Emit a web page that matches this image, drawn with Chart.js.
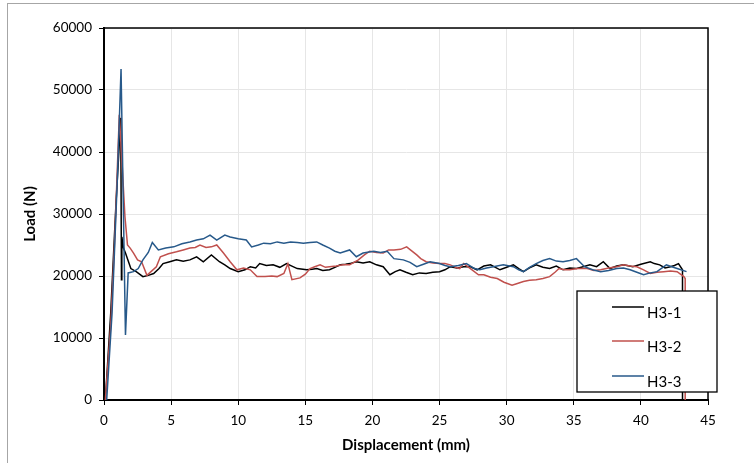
<!DOCTYPE html>
<html lang="en">
<head>
<meta charset="UTF-8">
<title>Load - Displacement</title>
<script src="https://cdn.jsdelivr.net/npm/chart.js"></script>
<style>
  body { margin: 0; background: #fff; overflow: hidden; }
  .frame { position: absolute; left: 7px; top: 3px; width: 800px; height: 520px; border: 1px solid #a6a6a6; }
  #chart { position: absolute; left: 0; top: 0; }
</style>
</head>
<body>
<div class="frame"></div>
<canvas id="chart" width="754" height="463"></canvas>
<script>
// values (displacement in mm, load in N)
const seriesNames = ["H3-1", "H3-2", "H3-3"];
const seriesColors = ["#000000", "#c0504d", "#27598a"];

const h31Disp = [0.1,0.5,0.9,1.25,1.3,1.33,1.45,1.6,2.0,2.4,2.9,3.3,3.7,4.1,4.4,4.9,5.4,5.9,6.4,6.9,7.4,8.0,8.6,9.0,9.4,10.0,10.5,10.9,11.3,11.6,12.1,12.6,13.1,13.6,14.0,14.4,15.1,15.5,15.85,16.3,16.8,17.2,17.6,18.0,18.3,18.8,19.3,19.8,20.3,20.8,21.3,21.7,22.05,22.5,23.0,23.5,24.0,24.5,25.0,25.4,25.8,26.3,26.8,27.3,27.8,28.3,28.8,29.5,30.0,30.5,30.9,31.25,31.7,32.2,32.7,33.2,33.7,34.2,34.7,35.2,35.7,36.2,36.7,37.2,37.7,38.2,38.7,39.4,40.0,40.7,41.0,41.4,41.8,42.2,42.5,42.8,43.1,43.1];
const h31Load = [0,14000,32000,45500,19400,26300,24500,23700,21200,20700,19900,20100,20400,21200,22000,22300,22600,22400,22600,23100,22300,23400,22300,21800,21200,20700,21000,21500,21300,22000,21700,21800,21400,22000,21600,21200,21000,21100,21200,20900,21000,21400,21800,21900,22000,22300,22100,22300,21800,21500,20200,20700,21000,20600,20200,20500,20400,20600,20700,21000,21500,21300,21500,21500,21000,21600,21800,21000,21400,21800,21200,20700,21300,21800,21400,21200,21600,21000,21300,21200,21500,21800,21500,22300,21200,21600,21800,21500,21900,22300,22000,21800,21300,21500,21700,22000,21000,0];

const h32Disp = [0.1,0.5,0.8,1.14,1.35,1.56,1.75,1.95,2.2,2.5,2.8,3.2,3.5,3.9,4.2,4.8,5.4,5.9,6.4,6.8,7.15,7.6,8.0,8.4,8.9,9.4,9.9,10.4,10.9,11.4,12.0,12.5,12.9,13.4,13.7,14.0,14.6,15.0,15.35,15.7,16.1,16.5,16.8,17.3,17.8,18.3,18.95,19.4,19.8,20.3,20.8,21.2,21.6,22.1,22.55,22.9,23.3,23.6,24.0,24.5,25.0,25.4,25.8,26.2,26.5,26.8,27.3,27.9,28.3,28.8,29.3,29.8,30.4,30.8,31.25,31.7,32.2,32.7,33.2,33.6,33.9,34.3,34.7,35.3,36.0,36.5,37.0,37.6,38.2,38.7,39.2,39.7,40.2,40.7,41.2,41.7,42.2,42.7,43.2,43.3,43.3];
const h32Load = [0,12000,26000,46000,38000,29600,25000,24500,23700,22600,22300,20100,20700,21500,23100,23600,23900,24200,24500,24600,25000,24600,24700,25000,23700,22300,21000,21300,21000,19900,19900,20000,19900,20400,22000,19400,19700,20300,21200,21500,21800,21400,21500,21600,21800,21800,22600,23400,24000,23800,23700,24200,24200,24300,24700,24100,23400,22800,22300,22100,22000,22000,21800,21400,21200,22000,21200,20200,20200,19800,19600,19000,18500,18800,19100,19300,19400,19600,19900,20600,21200,21000,21000,21200,21200,20900,21000,21300,21500,21800,21600,21500,21000,20400,20600,20700,20800,20700,19900,19600,0];

const h33Disp = [0.2,0.6,1.0,1.27,1.45,1.6,1.8,2.2,2.55,2.9,3.3,3.6,4.05,4.6,5.2,5.8,6.4,6.9,7.4,7.9,8.4,9.0,9.4,10.0,10.6,11.0,11.5,11.9,12.4,12.9,13.4,13.9,14.4,14.85,15.35,15.85,16.3,16.8,17.2,17.6,18.3,18.8,19.3,20.1,20.6,21.1,21.6,22.3,22.8,23.3,23.8,24.3,25.0,25.4,25.8,26.4,27.0,27.6,28.0,28.5,29.0,29.75,30.5,30.9,31.25,31.7,32.2,32.7,33.2,33.7,34.2,34.7,35.2,35.8,36.4,37.0,37.6,38.2,38.7,39.2,39.7,40.2,40.7,41.2,41.9,42.3,42.7,43.4];
const h33Load = [0,14000,36000,53400,30000,10500,20500,20700,21200,22600,23800,25400,24200,24500,24700,25200,25500,25800,26000,26600,25800,26600,26300,26000,25800,24700,25000,25300,25200,25500,25300,25500,25400,25300,25400,25500,25000,24500,24000,23700,24200,23100,23700,24000,23800,24000,22800,22600,22200,21500,21900,22300,22000,21700,21500,21700,22000,21200,21000,21300,21500,21800,21500,21000,20700,21400,22000,22500,22800,22400,22300,22500,22800,21500,21000,20700,20900,21200,21300,21000,20600,20200,20500,20700,21800,21500,21200,20700];

const xTicks = [0, 5, 10, 15, 20, 25, 30, 35, 40, 45];
const yTicks = [0, 10000, 20000, 30000, 40000, 50000, 60000];

function toPoints(xs, ys) {
  return xs.map((x, i) => ({ x: x, y: ys[i] }));
}

// top and right edges of the plot area
const plotBox = {
  id: "plotBox",
  afterDatasetsDraw(chart) {
    const { ctx, chartArea: a } = chart;
    ctx.save();
    ctx.strokeStyle = "#000";
    ctx.lineWidth = 1.5;
    ctx.beginPath();
    ctx.moveTo(a.left, a.top);
    ctx.lineTo(a.right, a.top);
    ctx.lineTo(a.right, a.bottom);
    ctx.stroke();
    ctx.restore();
  }
};

// boxed legend sitting over the lower right of the plot
const boxLegend = {
  id: "boxLegend",
  afterDraw(chart) {
    const ctx = chart.ctx;
    const left = 577, top = 291, w = 140, h = 101;
    const rows = [307, 341, 376];
    ctx.save();
    ctx.fillStyle = "#fff";
    ctx.fillRect(left, top, w, h);
    ctx.strokeStyle = "#000";
    ctx.lineWidth = 1.3;
    ctx.strokeRect(left, top, w, h);
    ctx.font = "15px Lato";
    ctx.textBaseline = "middle";
    seriesNames.forEach((name, i) => {
      ctx.strokeStyle = seriesColors[i];
      ctx.lineWidth = 1.5;
      ctx.beginPath();
      ctx.moveTo(612, rows[i]);
      ctx.lineTo(644, rows[i]);
      ctx.stroke();
      ctx.fillStyle = "#000";
      ctx.fillText(name, 647, rows[i] + 6);
    });
    ctx.restore();
  }
};

Chart.defaults.font.family = "Lato";
Chart.defaults.font.size = 13;
Chart.defaults.color = "#000";

const allDisp = [h31Disp, h32Disp, h33Disp];
const allLoad = [h31Load, h32Load, h33Load];

new Chart(document.getElementById("chart"), {
  type: "scatter",
  data: {
    datasets: seriesNames.map((name, i) => ({
      label: name,
      data: toPoints(allDisp[i], allLoad[i]),
      showLine: true,
      borderColor: seriesColors[i],
      backgroundColor: seriesColors[i],
      borderWidth: 1.5,
      pointRadius: 0,
      tension: 0,
      order: 2 - i
    }))
  },
  options: {
    responsive: false,
    animation: false,
    layout: { padding: { top: 28, right: 46, left: 0, bottom: 0 } },
    plugins: { legend: { display: false }, tooltip: { enabled: false } },
    scales: {
      x: {
        type: "linear",
        min: 0,
        max: 45,
        afterFit: s => { s.height = 63; },
        afterBuildTicks: s => { s.ticks = xTicks.map(v => ({ value: v })); },
        grid: { color: "#e6e6e6", tickColor: "#000", tickLength: 5 },
        border: { color: "#000", width: 2 },
        ticks: { padding: 8, maxRotation: 0, font: { size: 13.5 } },
        title: { display: true, text: "Displacement (mm)", font: { weight: "bold", size: 15 }, padding: { top: 0, bottom: 9 } }
      },
      y: {
        min: 0,
        max: 60000,
        afterFit: s => { s.width = 104; },
        afterBuildTicks: s => { s.ticks = yTicks.map(v => ({ value: v })); },
        grid: { color: "#e6e6e6", tickColor: "#000", tickLength: 5 },
        border: { color: "#000", width: 2 },
        ticks: { padding: 7, callback: v => String(v), font: { size: 13.5 } },
        title: { display: true, text: "Load (N)", font: { weight: "bold", size: 15 }, padding: { top: 21, bottom: 0 } }
      }
    }
  },
  plugins: [plotBox, boxLegend]
});
</script>
</body>
</html>
